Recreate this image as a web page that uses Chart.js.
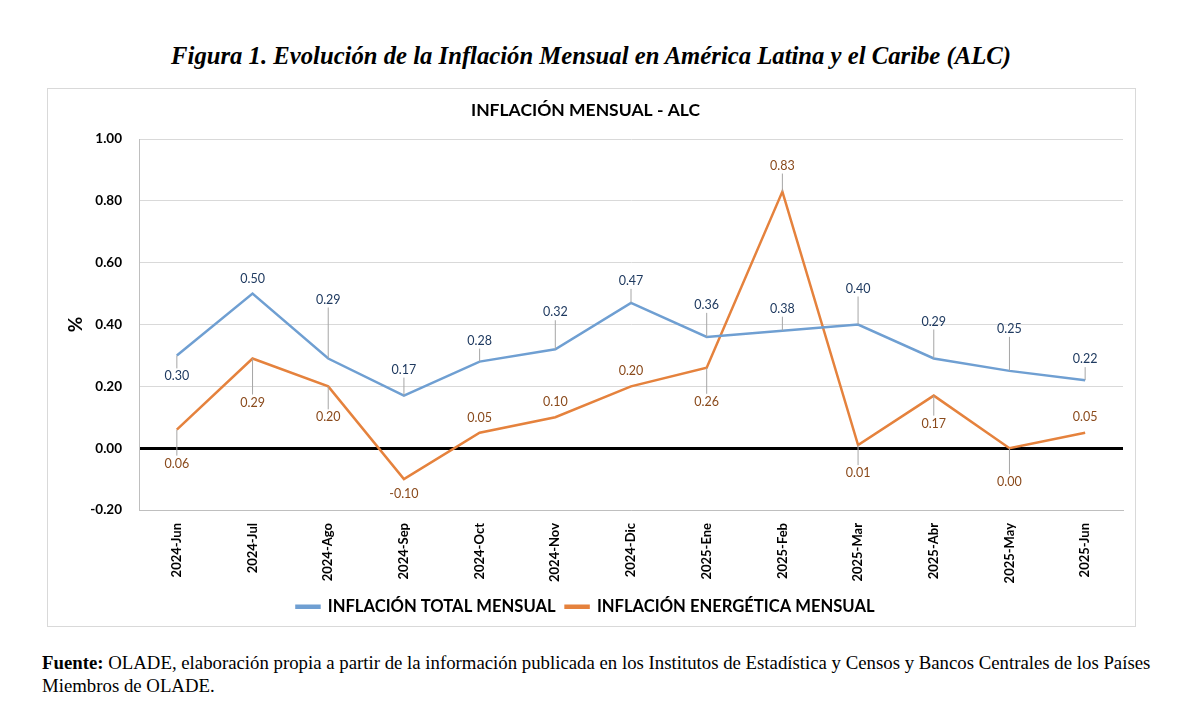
<!DOCTYPE html>
<html lang="es">
<head>
<meta charset="utf-8">
<title>Inflación mensual ALC</title>
<script src="https://cdn.jsdelivr.net/npm/chart.js@4/dist/chart.umd.min.js"></script>
<style>
  html, body { margin: 0; padding: 0; background: #fff; }
  body { width: 1194px; height: 709px; position: relative; overflow: hidden; }
  #fig-title {
    position: absolute; left: 0; top: 42px; width: 1182px; text-align: center;
    font-family: "Liberation Serif", "Times New Roman", serif;
    font-weight: bold; font-style: italic; font-size: 24.7px; color: #000;
  }
  #chart-box {
    position: absolute; left: 47px; top: 88px; width: 1087px; height: 537px;
    border: 1px solid #d9d9d9;
  }
  #source {
    position: absolute; left: 42px; top: 651px; white-space: nowrap;
    font-family: "Liberation Serif", "Times New Roman", serif;
    font-size: 18.8px; line-height: 23px; color: #000;
  }
</style>
</head>
<body>
<div id="fig-title">Figura 1. Evolución de la Inflación Mensual en América Latina y el Caribe (ALC)</div>
<div id="chart-box"><canvas id="inflationChart" width="1087" height="537"></canvas></div>
<div id="source"><b>Fuente:</b> OLADE, elaboración propia a partir de la información publicada en los Institutos de Estadística y Censos y Bancos Centrales de los Países<br>Miembros de OLADE.</div>

<script>
(function() {
    'use strict';

    // Chart data
    const months = ['2024-Jun', '2024-Jul', '2024-Ago', '2024-Sep', '2024-Oct', '2024-Nov', '2024-Dic',
                    '2025-Ene', '2025-Feb', '2025-Mar', '2025-Abr', '2025-May', '2025-Jun'];
    const totalInflation = [0.30, 0.50, 0.29, 0.17, 0.28, 0.32, 0.47, 0.36, 0.38, 0.40, 0.29, 0.25, 0.22];
    const energyInflation = [0.06, 0.29, 0.20, -0.10, 0.05, 0.10, 0.20, 0.26, 0.83, 0.01, 0.17, 0.00, 0.05];
    const yTicks = [-0.20, 0.00, 0.20, 0.40, 0.60, 0.80, 1.00];

    // Label placement (pixel offset of each value label from its point)
    const totalLabelDy = [21, -15, -59, -26, -21, -37, -22, -32, -22, -36, -37, -42, -21];
    const energyLabelDy = [34, 44, 31, 15, -15, -15, -15, 34, -26, 28, 28, 34, -16];

    const SANS = 'Lato, "Open Sans", sans-serif';
    const BLUE = '#6f9fd2';
    const ORANGE = '#e5823d';

    // Draws the value labels, with a thin leader line when the label sits far from the point
    const valueLabels = {
        id: 'valueLabels',
        afterDatasetsDraw(chart) {
            const ctx = chart.ctx;
            const sets = [
                { idx: 0, dy: totalLabelDy, color: '#1f3a60' },
                { idx: 1, dy: energyLabelDy, color: '#8a4a1c' }
            ];
            ctx.save();
            ctx.font = '12.5px ' + SANS;
            ctx.textAlign = 'center';
            ctx.textBaseline = 'middle';
            sets.forEach(function(s) {
                const meta = chart.getDatasetMeta(s.idx);
                const values = chart.data.datasets[s.idx].data;
                meta.data.forEach(function(pt, i) {
                    const dy = s.dy[i];
                    const ly = pt.y + dy;
                    if (Math.abs(dy) > 18) {
                        const sign = dy > 0 ? 1 : -1;
                        ctx.strokeStyle = '#a6a6a6';
                        ctx.lineWidth = 1;
                        ctx.beginPath();
                        ctx.moveTo(pt.x, pt.y);
                        ctx.lineTo(pt.x, ly - sign * 8);
                        ctx.stroke();
                    }
                    ctx.fillStyle = s.color;
                    ctx.fillText(values[i].toFixed(2), pt.x, ly);
                });
            });
            ctx.restore();
        }
    };

    document.addEventListener('DOMContentLoaded', function() {
        const ctx = document.getElementById('inflationChart').getContext('2d');
        new Chart(ctx, {
            type: 'line',
            data: {
                labels: months,
                datasets: [
                    {
                        label: 'INFLACIÓN TOTAL MENSUAL',
                        data: totalInflation,
                        borderColor: BLUE,
                        backgroundColor: BLUE,
                        borderWidth: 2.5,
                        pointRadius: 0,
                        tension: 0
                    },
                    {
                        label: 'INFLACIÓN ENERGÉTICA MENSUAL',
                        data: energyInflation,
                        borderColor: ORANGE,
                        backgroundColor: ORANGE,
                        borderWidth: 2.5,
                        pointRadius: 0,
                        tension: 0
                    }
                ]
            },
            options: {
                responsive: false,
                animation: false,
                devicePixelRatio: 1,
                layout: { padding: { left: 0, right: 12, top: 0, bottom: 1 } },
                plugins: {
                    title: {
                        display: true,
                        text: 'INFLACIÓN MENSUAL - ALC',
                        color: '#000',
                        font: { family: SANS, size: 17.5, weight: 'bold' },
                        padding: { top: 11, bottom: 18 }
                    },
                    legend: {
                        position: 'bottom',
                        labels: {
                            color: '#000',
                            font: { family: SANS, size: 16.6, weight: 'bold' },
                            boxWidth: 23,
                            boxHeight: 2,
                            padding: 10
                        }
                    },
                    tooltip: { enabled: false }
                },
                scales: {
                    x: {
                        offset: true,
                        grid: { display: false },
                        border: { color: '#bfbfbf' },
                        ticks: {
                            color: '#000',
                            font: { family: SANS, size: 13, weight: 'bold' },
                            minRotation: 90,
                            maxRotation: 90,
                            padding: 5
                        }
                    },
                    y: {
                        min: -0.2,
                        max: 1.0,
                        afterBuildTicks: function(scale) {
                            scale.ticks = yTicks.map(function(v) { return { value: v }; });
                        },
                        afterFit: function(scale) { scale.width = 91; },
                        title: {
                            display: true,
                            text: '%',
                            color: '#000',
                            font: { family: SANS, size: 19, weight: 'bold' },
                            padding: { top: 16, bottom: 0 }
                        },
                        border: { color: '#bfbfbf' },
                        grid: {
                            color: function(c) { return c.tick && c.tick.value === 0 ? '#000' : '#d9d9d9'; },
                            lineWidth: function(c) { return c.tick && c.tick.value === 0 ? 3 : 1; },
                            drawTicks: false
                        },
                        ticks: {
                            color: '#000',
                            font: { family: SANS, size: 13.5, weight: 'bold' },
                            padding: 17,
                            callback: function(v) { return Number(v).toFixed(2); }
                        }
                    }
                }
            },
            plugins: [valueLabels]
        });
    });
})();
</script>
</body>
</html>
